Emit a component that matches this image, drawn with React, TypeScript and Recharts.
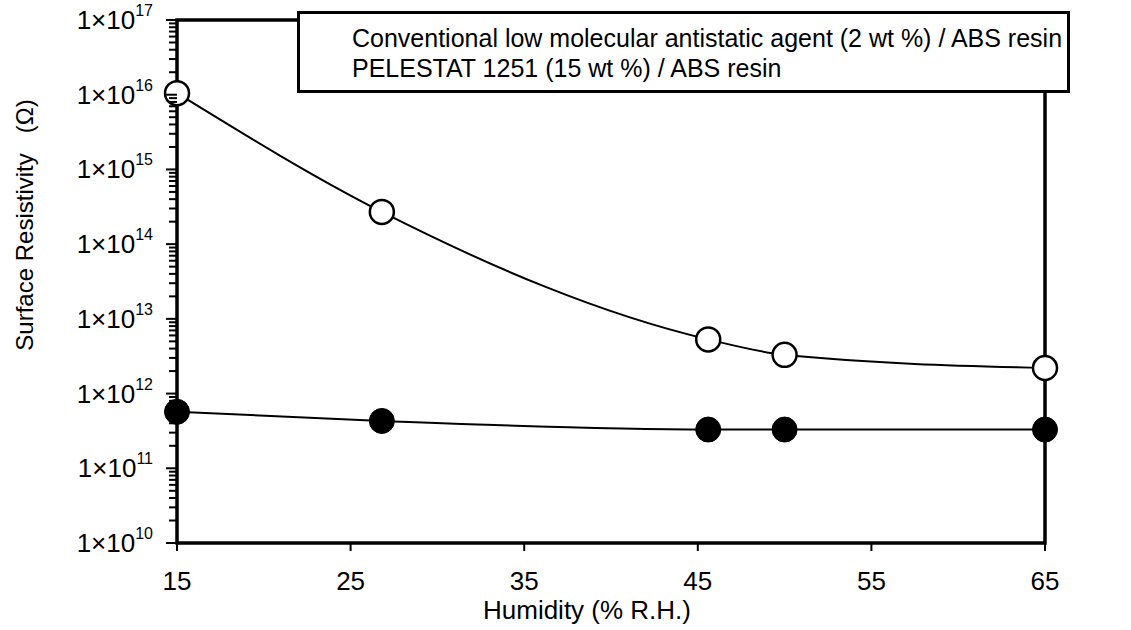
import { LineChart, Line, XAxis, YAxis, ReferenceArea } from 'recharts'

// humidity (% R.H.)
const humidity = [15, 26.8, 45.6, 50, 65]
// surface resistivity (ohm)
const conventional = [1.05e16, 2.7e14, 5.3e12, 3.3e12, 2.2e12]
const pelestat = [5.7e11, 4.3e11, 3.3e11, 3.3e11, 3.3e11]

const xTicks = [15, 25, 35, 45, 55, 65]
const yExponents = [10, 11, 12, 13, 14, 15, 16, 17]

const seriesNames = [
    'Conventional low molecular antistatic agent (2 wt %) / ABS resin',
    'PELESTAT 1251 (15 wt %) / ABS resin',
]

const FONT = '"Liberation Sans", Arial, sans-serif'

const data = humidity.map((h, i) => ({
    humidity: h,
    conventional: conventional[i],
    pelestat: pelestat[i],
}))

// major + minor log ticks
const yTicks: number[] = []
yExponents.forEach((e, i) => {
    if (i === yExponents.length - 1) {
        yTicks.push(Math.pow(10, e))
        return
    }
    for (let m = 1; m <= 9; m++) yTicks.push(m * Math.pow(10, e))
})

const YTick = (props: any) => {
    const { x, y, payload } = props
    const lg = Math.log10(payload.value)
    const major = Math.abs(lg - Math.round(lg)) < 1e-6
    if (!major) {
        return <line x1={x - 8} y1={y} x2={x} y2={y} stroke="#000" strokeWidth={2} />
    }
    return (
        <g>
            <line x1={x - 11} y1={y} x2={x} y2={y} stroke="#000" strokeWidth={2} />
            <text x={x - 24} y={y + 9} textAnchor="end" fontSize={26} fontFamily={FONT} fill="#000">
                <tspan>1×10</tspan>
                <tspan dy={-13} fontSize={16}>{Math.round(lg)}</tspan>
            </text>
        </g>
    )
}

// legend box without symbols, sits on top of the frame
const LegendBox = () => (
    <div
        style={{
            position: 'absolute',
            left: 297,
            top: 11,
            boxSizing: 'border-box',
            width: 773,
            height: 82,
            border: '3px solid #000',
            background: '#fff',
            padding: '9px 0 0 52px',
            fontFamily: FONT,
            fontSize: 25,
            lineHeight: '30px',
            color: '#000',
        }}
    >
        {seriesNames.map((n) => (
            <div key={n} style={{ whiteSpace: 'nowrap' }}>{n}</div>
        ))}
    </div>
)

export default function App() {
    return (
        <div style={{ position: 'absolute', left: 0, top: 0, width: 1131, height: 630, background: '#fff' }}>
            <LineChart
                width={1131}
                height={630}
                data={data}
                margin={{ top: 20, right: 86, bottom: 0, left: 0 }}
            >
                <XAxis
                    dataKey="humidity"
                    type="number"
                    domain={[15, 65]}
                    ticks={xTicks}
                    interval={0}
                    height={87}
                    axisLine={false}
                    tickSize={8}
                    tickLine={{ stroke: '#000', strokeWidth: 2 }}
                    tickMargin={21}
                    tick={{ fill: '#000', fontSize: 26, fontFamily: FONT }}
                    label={{
                        value: 'Humidity (% R.H.)',
                        position: 'insideBottom',
                        offset: 11,
                        dx: -24,
                        fill: '#000',
                        fontSize: 26,
                        fontFamily: FONT,
                    }}
                />
                <YAxis
                    type="number"
                    scale="log"
                    domain={[1e10, 1e17]}
                    allowDataOverflow
                    ticks={yTicks}
                    interval={0}
                    width={177}
                    axisLine={false}
                    tickLine={false}
                    tickSize={0}
                    tickMargin={0}
                    tick={YTick}
                    label={{
                        content: () => (
                            <text
                                transform="translate(33,225) rotate(-90)"
                                textAnchor="middle"
                                fontSize={24}
                                fontFamily={FONT}
                                fill="#000"
                                style={{ whiteSpace: 'pre' }}
                            >
                                {'Surface Resistivity   (Ω)'}
                            </text>
                        ),
                    }}
                />
                <ReferenceArea
                    x1={15}
                    x2={65}
                    y1={1e10}
                    y2={1e17}
                    fill="none"
                    stroke="#000"
                    strokeWidth={3.5}
                    ifOverflow="visible"
                />
                <Line
                    dataKey="conventional"
                    type="monotone"
                    stroke="#000"
                    strokeWidth={2}
                    dot={{ r: 12, fill: '#fff', stroke: '#000', strokeWidth: 2.5 }}
                    activeDot={false}
                    isAnimationActive={false}
                />
                <Line
                    dataKey="pelestat"
                    type="monotone"
                    stroke="#000"
                    strokeWidth={2}
                    dot={{ r: 12.5, fill: '#000', stroke: '#000', strokeWidth: 1 }}
                    activeDot={false}
                    isAnimationActive={false}
                />
            </LineChart>
            <LegendBox />
        </div>
    )
}
